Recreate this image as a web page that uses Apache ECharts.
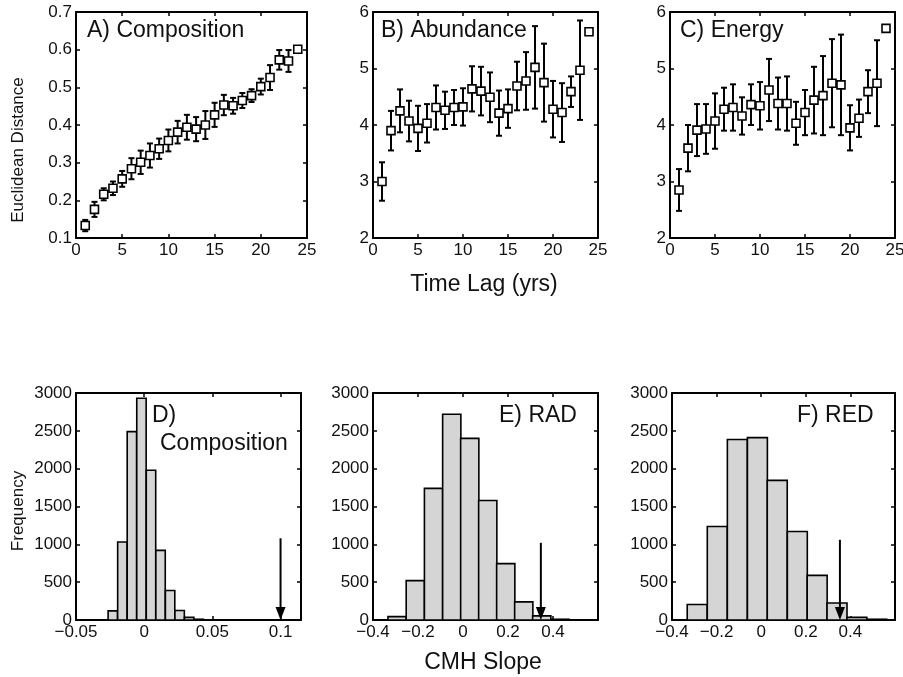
<!DOCTYPE html>
<html>
<head>
<meta charset="utf-8">
<script src="https://cdn.jsdelivr.net/npm/echarts@6/dist/echarts.min.js"></script>
<style>
  html, body { margin: 0; padding: 0; background: #fff; }
  #chart { width: 903px; height: 677px; }
</style>
</head>
<body>
<div id="chart"></div>
<script>
// time lag panels (A-C)
const lagYears = [1, 2, 3, 4, 5, 6, 7, 8, 9, 10, 11, 12, 13, 14, 15, 16, 17, 18, 19, 20, 21, 22, 23, 24]
const compMean = [0.133, 0.176, 0.216, 0.232, 0.257, 0.284, 0.301, 0.319, 0.337, 0.359, 0.381, 0.394,
  0.389, 0.400, 0.427, 0.453, 0.451, 0.465, 0.478, 0.502, 0.526, 0.573, 0.570, 0.601]
const compErr = [0.015, 0.020, 0.016, 0.018, 0.021, 0.028, 0.031, 0.032, 0.027, 0.029, 0.030, 0.033,
  0.032, 0.037, 0.032, 0.027, 0.021, 0.020, 0.017, 0.021, 0.033, 0.026, 0.029, 0]
const abunMean = [3.00, 3.90, 4.25, 4.07, 3.94, 4.03, 4.31, 4.26, 4.31, 4.32, 4.64, 4.60,
  4.49, 4.21, 4.29, 4.69, 4.78, 5.02, 4.75, 4.28, 4.22, 4.59, 4.97, 5.65]
const abunErr = [0.34, 0.35, 0.38, 0.36, 0.40, 0.34, 0.39, 0.33, 0.31, 0.33, 0.40, 0.43,
  0.44, 0.40, 0.34, 0.43, 0.51, 0.73, 0.69, 0.50, 0.52, 0.27, 0.88, 0]
const enerMean = [2.85, 3.59, 3.91, 3.93, 4.07, 4.28, 4.31, 4.16, 4.36, 4.34, 4.62, 4.38,
  4.38, 4.03, 4.22, 4.44, 4.52, 4.74, 4.71, 3.95, 4.12, 4.59, 4.74, 5.71]
const enerErr = [0.37, 0.41, 0.46, 0.44, 0.49, 0.38, 0.41, 0.33, 0.36, 0.42, 0.55, 0.46,
  0.48, 0.38, 0.40, 0.59, 0.70, 0.78, 0.89, 0.40, 0.33, 0.38, 0.76, 0]

// histogram panels (D-F)
const compBins = [-0.023, -0.016, -0.009, -0.002, 0.005, 0.012, 0.019, 0.026, 0.033, 0.040]
const compCounts = [120, 1030, 2490, 2930, 1980, 920, 390, 125, 35, 10]
const compBinWidth = 0.0069
const radBins = [-0.293, -0.212, -0.131, -0.050, 0.030, 0.110, 0.190, 0.270, 0.350, 0.431]
const radCounts = [45, 520, 1740, 2720, 2400, 1580, 745, 240, 55, 10]
const radBinWidth = 0.081
const redBins = [-0.287, -0.197, -0.107, -0.017, 0.072, 0.162, 0.251, 0.340, 0.429, 0.518]
const redCounts = [205, 1235, 2385, 2410, 1845, 1170, 590, 225, 35, 10]
const redBinWidth = 0.0895

// observed slopes (arrows) and arrow top
const observed = [0.100, 0.346, 0.353]
const arrowTop = [1080, 1020, 1060]

const FONT = '"Liberation Sans", Arial, sans-serif'
const black = '#000'

const grids = [
  { left: 76, top: 12, width: 231, height: 226 },
  { left: 373, top: 12, width: 225, height: 226 },
  { left: 670, top: 12, width: 225, height: 226 },
  { left: 76, top: 393, width: 225, height: 227 },
  { left: 373, top: 393, width: 225, height: 227 },
  { left: 672, top: 393, width: 223, height: 227 }
].map(g => Object.assign({ outerBoundsMode: 'none' }, g))

function fmt(v) {
  const r = +v.toFixed(3)
  return r < 0 ? '\u2212' + Math.abs(r) : String(r)
}

const lineStyle = { color: black, width: 2 }
const tickStyle = { show: true, inside: true, length: 4, lineStyle: { color: black, width: 1.5 } }

function xAxes(gridIndex, min, max, interval, hideMax) {
  const base = {
    type: 'value', gridIndex, min, max, interval,
    splitLine: { show: false },
    axisLine: { show: true, onZero: false, lineStyle },
    axisTick: tickStyle
  }
  return [
    Object.assign({}, base, {
      position: 'bottom',
      axisLabel: { color: '#111', fontSize: 17, fontFamily: FONT, margin: 4, formatter: fmt, showMaxLabel: !hideMax }
    }),
    Object.assign({}, base, { position: 'top', axisLabel: { show: false } })
  ]
}

function yAxes(gridIndex, min, max, interval) {
  const base = {
    type: 'value', gridIndex, min, max, interval,
    splitLine: { show: false },
    axisLine: { show: true, onZero: false, lineStyle },
    axisTick: tickStyle
  }
  return [
    Object.assign({}, base, {
      position: 'left',
      axisLabel: { color: '#111', fontSize: 17, fontFamily: FONT, margin: 4, formatter: fmt }
    }),
    Object.assign({}, base, { position: 'right', axisLabel: { show: false } })
  ]
}

const xAxis = [].concat(
  xAxes(0, 0, 25, 5), xAxes(1, 0, 25, 5), xAxes(2, 0, 25, 5),
  xAxes(3, -0.05, 0.115, 0.05, true), xAxes(4, -0.4, 0.6, 0.2, true), xAxes(5, -0.4, 0.6, 0.2, true)
)
const yAxis = [].concat(
  yAxes(0, 0.1, 0.7, 0.1), yAxes(1, 2, 6, 1), yAxes(2, 2, 6, 1),
  yAxes(3, 0, 3000, 500), yAxes(4, 0, 3000, 500), yAxes(5, 0, 3000, 500)
)

function errRender(params, api) {
  const x = api.value(0), m = api.value(1), e = api.value(2)
  if (!e) return { type: 'group', children: [] }
  const top = api.coord([x, m + e])
  const bot = api.coord([x, m - e])
  const c = 3
  const st = { stroke: black, lineWidth: 2 }
  return {
    type: 'group',
    children: [
      { type: 'line', shape: { x1: top[0], y1: top[1], x2: bot[0], y2: bot[1] }, style: st },
      { type: 'line', shape: { x1: top[0] - c, y1: top[1], x2: top[0] + c, y2: top[1] }, style: st },
      { type: 'line', shape: { x1: bot[0] - c, y1: bot[1], x2: bot[0] + c, y2: bot[1] }, style: st }
    ]
  }
}

function barRender(width) {
  return function (params, api) {
    const x = api.value(0), n = api.value(1)
    const p0 = api.coord([x - width / 2, n])
    const p1 = api.coord([x + width / 2, 0])
    return {
      type: 'rect',
      shape: { x: p0[0], y: p0[1], width: p1[0] - p0[0], height: p1[1] - p0[1] },
      style: { fill: '#d5d5d5', stroke: black, lineWidth: 1.6 }
    }
  }
}

function arrowRender(params, api) {
  const a = api.coord([api.value(0), api.value(1)])
  const b = api.coord([api.value(0), 0])
  return {
    type: 'group',
    children: [
      { type: 'line', shape: { x1: a[0], y1: a[1], x2: b[0], y2: b[1] - 10 }, style: { stroke: black, lineWidth: 2 } },
      { type: 'polygon', shape: { points: [[b[0] - 5, b[1] - 13], [b[0] + 5, b[1] - 13], [b[0], b[1]]] }, style: { fill: black } }
    ]
  }
}

function lagSeries(i, mean, err) {
  return [
    {
      type: 'custom', xAxisIndex: 2 * i, yAxisIndex: 2 * i, renderItem: errRender,
      data: lagYears.map((x, k) => [x, mean[k], err[k]]), z: 2
    },
    {
      type: 'scatter', xAxisIndex: 2 * i, yAxisIndex: 2 * i, symbol: 'rect', symbolSize: 8,
      itemStyle: { color: '#fff', borderColor: black, borderWidth: 1.6, opacity: 1 },
      data: lagYears.map((x, k) => [x, mean[k]]), z: 3
    }
  ]
}

function histSeries(i, bins, counts, width, obs, top) {
  const ax = 2 * i
  return [
    {
      type: 'custom', xAxisIndex: ax, yAxisIndex: ax, renderItem: barRender(width), clip: true,
      data: bins.map((b, k) => [b, counts[k]]), z: 2
    },
    {
      type: 'custom', xAxisIndex: ax, yAxisIndex: ax, renderItem: arrowRender,
      data: [[obs, top]], z: 3
    }
  ]
}

const series = [].concat(
  lagSeries(0, compMean, compErr),
  lagSeries(1, abunMean, abunErr),
  lagSeries(2, enerMean, enerErr),
  histSeries(3, compBins, compCounts, compBinWidth, observed[0], arrowTop[0]),
  histSeries(4, radBins, radCounts, radBinWidth, observed[1], arrowTop[1]),
  histSeries(5, redBins, redCounts, redBinWidth, observed[2], arrowTop[2])
)

function label(text, x, y, size, opts) {
  return Object.assign({
    type: 'text', x, y, z: 10,
    style: {
      text, fill: '#111', font: size + 'px ' + FONT,
      align: 'left', verticalAlign: 'middle', textAlign: 'left', textVerticalAlign: 'middle'
    }
  }, opts || {})
}

function centered(text, x, y, size, rotation) {
  const el = label(text, x, y, size, rotation ? { rotation } : {})
  el.style.align = el.style.textAlign = 'center'
  return el
}

const graphic = [
  label('A) Composition', 87, 31, 23),
  label('B) Abundance', 381, 31, 23),
  label('C) Energy', 680, 31, 23),
  label('D)', 152, 416, 23),
  label('Composition', 160, 444, 23),
  label('E) RAD', 499, 416, 23),
  label('F) RED', 797, 416, 23),
  centered('Time Lag (yrs)', 484, 285, 23),
  centered('CMH Slope', 483, 663, 23),
  centered('Euclidean Distance', 18, 150, 17, Math.PI / 2),
  centered('Frequency', 18, 511, 17, Math.PI / 2)
]

const chart = echarts.init(document.getElementById('chart'))
chart.setOption({
  animation: false,
  backgroundColor: '#fff',
  grid: grids,
  xAxis,
  yAxis,
  series,
  graphic
})
</script>
</body>
</html>
